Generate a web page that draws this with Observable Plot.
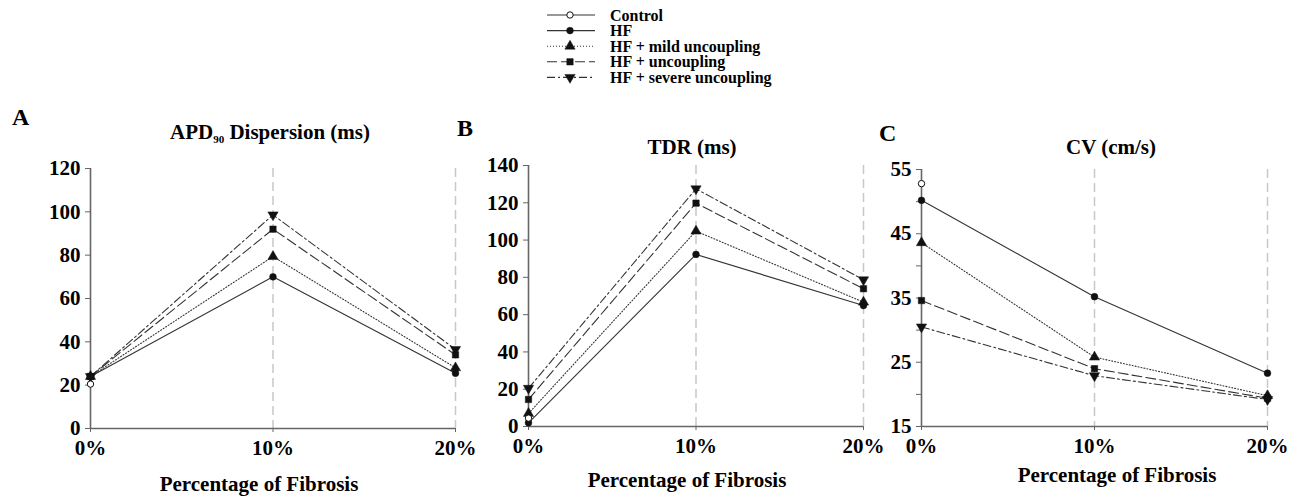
<!DOCTYPE html>
<html>
<head>
<meta charset="utf-8">
<script src="https://cdn.jsdelivr.net/npm/d3@7"></script>
<script src="https://cdn.jsdelivr.net/npm/@observablehq/plot@0.6"></script>
<style>
  body { margin: 0; background: #fff; }
  #wrap { position: relative; width: 1302px; height: 497px; background: #fff; overflow: hidden;
          font-family: 'Liberation Serif', 'Times New Roman', serif; font-weight: bold; color: #000; }
  .abs { position: absolute; white-space: nowrap; }
  .title { font-size: 21px; line-height: 21px; text-align: center; width: 300px; }
  .letter { font-size: 24px; line-height: 24px; }
  .xlab { font-size: 21px; line-height: 21px; text-align: center; width: 300px; }
  sub { font-size: 11px; vertical-align: -4px; line-height: 0; }
</style>
</head>
<body>
<div id="wrap"></div>
<script>
// ---------- data ----------
const fibrosis = [0, 10, 20];
const xTickLabels = ["0%", "10%", "20%"];
const seriesNames = ["Control", "HF", "HF + mild uncoupling", "HF + uncoupling", "HF + severe uncoupling"];

// Panel A: APD90 dispersion (ms)
const apdControl = [20.5];
const apdHF      = [24, 70, 25.5];
const apdMild    = [24, 79.4, 28];
const apdUnc     = [24, 92, 34];
const apdSevere  = [24, 98.6, 36.5];
const apdTicks   = [0, 20, 40, 60, 80, 100, 120];

// Panel B: TDR (ms)
const tdrControl = [4.5];
const tdrHF      = [2, 92.3, 64.9];
const tdrMild    = [7, 104.8, 66.7];
const tdrUnc     = [14.5, 119.8, 73.9];
const tdrSevere  = [20.5, 127.5, 78.7];
const tdrTicks   = [0, 20, 40, 60, 80, 100, 120, 140];

// Panel C: CV (cm/s)
const cvControl = [52.8];
const cvHF      = [50.2, 35.2, 23.3];
const cvMild    = [43.6, 25.8, 19.8];
const cvUnc     = [34.6, 24.0, 19.4];
const cvSevere  = [30.5, 22.9, 19.2];
const cvTicks      = [15, 25, 35, 45, 55];
const cvMinorTicks = [20, 30, 40, 50];

// ---------- styles ----------
const styleOf = {
  "Control":                {dash: null,        symbol: "circle",   fill: "#fff",  rotate: 0,   r: 3.2},
  "HF":                     {dash: null,        symbol: "circle",   fill: "#111",  rotate: 0,   r: 3.4},
  "HF + mild uncoupling":   {dash: "1,2",       symbol: "triangle", fill: "#111",  rotate: 0,   r: 3.8},
  "HF + uncoupling":        {dash: "10,4",      symbol: "square",   fill: "#111",  rotate: 0,   r: 3.6},
  "HF + severe uncoupling": {dash: "8,3,2,3",   symbol: "triangle", fill: "#111",  rotate: 180, r: 3.8}
};

function rows(arrs) {
  const out = [];
  seriesNames.forEach((s, i) => {
    arrs[i].forEach((v, j) => out.push({series: s, x: fibrosis[j], y: v}));
  });
  return out;
}

const wrap = document.getElementById("wrap");

function panel({data, yDomain, ticks, minorTicks, left, top, width, height, mL, mR, mT, mB}) {
  const marks = [
    Plot.ruleX([10, 20], {stroke: "#c8c8c8", strokeWidth: 1.5, strokeDasharray: "9,5"}),
    Plot.ruleX([0], {stroke: "#666", strokeWidth: 1.6}),
    Plot.ruleY([yDomain[0]], {stroke: "#666", strokeWidth: 1.6}),
    Plot.axisY({ticks, tickSize: 5, tickPadding: 5, stroke: "#666", fill: "#000", label: null}),
    Plot.axisX({ticks: fibrosis, tickFormat: (d) => xTickLabels[fibrosis.indexOf(d)], tickSize: 4, tickPadding: 8,
                stroke: "#666", fill: "#000", label: null})
  ];
  if (minorTicks) marks.push(Plot.axisY({ticks: minorTicks, tickSize: 5, text: null, stroke: "#666", label: null}));
  const drawOrder = ["HF", "HF + mild uncoupling", "HF + severe uncoupling", "HF + uncoupling", "Control"];
  for (const s of drawOrder) {
    const d = data.filter(r => r.series === s);
    if (d.length > 1) marks.push(Plot.line(d, {x: "x", y: "y", stroke: "#333", strokeWidth: 1.1,
                                               strokeDasharray: styleOf[s].dash}));
  }
  for (const s of drawOrder) {
    const d = data.filter(r => r.series === s);
    const st = styleOf[s];
    marks.push(Plot.dot(d, {x: "x", y: "y", symbol: () => st.symbol, fill: st.fill, stroke: "#111",
                            strokeWidth: s === "Control" ? 1 : 0.5, r: st.r, rotate: st.rotate}));
  }
  const chart = Plot.plot({
    width, height, marginLeft: mL, marginRight: mR, marginTop: mT, marginBottom: mB,
    x: {domain: [0, 20]},
    y: {domain: yDomain},
    symbol: {type: "identity"},
    style: {fontFamily: "'Liberation Serif', 'Times New Roman', serif", fontSize: "21px", fontWeight: "bold",
            background: "transparent", overflow: "visible", color: "#000"},
    marks
  });
  chart.style.position = "absolute";
  chart.style.left = left + "px";
  chart.style.top = top + "px";
  chart.style.maxWidth = "none";
  wrap.appendChild(chart);
}

panel({data: rows([apdControl, apdHF, apdMild, apdUnc, apdSevere]), yDomain: [0, 120], ticks: apdTicks,
       left: 0, top: 150, width: 490, height: 318, mL: 90, mR: 35, mT: 18, mB: 40});
panel({data: rows([tdrControl, tdrHF, tdrMild, tdrUnc, tdrSevere]), yDomain: [0, 140], ticks: tdrTicks,
       left: 440, top: 150, width: 458, height: 318, mL: 88, mR: 35, mT: 15, mB: 42});
panel({data: rows([cvControl, cvHF, cvMild, cvUnc, cvSevere]), yDomain: [15, 55], ticks: cvTicks, minorTicks: cvMinorTicks,
       left: 840, top: 150, width: 462, height: 318, mL: 81, mR: 35, mT: 19, mB: 42});

// ---------- text ----------
function addText(cls, html, left, top) {
  const d = document.createElement("div");
  d.className = "abs " + cls;
  d.innerHTML = html;
  d.style.left = left + "px";
  d.style.top = top + "px";
  wrap.appendChild(d);
}
addText("letter", "A", 12, 105);
addText("letter", "B", 457, 116);
addText("letter", "C", 879, 121);
addText("title", "APD<sub>90</sub> Dispersion (ms)", 270 - 150, 122);
addText("title", "TDR (ms)", 692 - 150, 137);
addText("title", "CV (cm/s)", 1111 - 150, 137);
addText("xlab", "Percentage of Fibrosis", 259 - 150, 474);
addText("xlab", "Percentage of Fibrosis", 687 - 150, 470);
addText("xlab", "Percentage of Fibrosis", 1117 - 150, 465);

// ---------- legend ----------
const leg = d3.select(wrap).append("svg")
  .attr("width", 300).attr("height", 92)
  .style("position", "absolute").style("left", "540px").style("top", "0px");
seriesNames.forEach((s, i) => {
  const st = styleOf[s];
  const y = 15 + i * 15.6;
  const g = leg.append("g").attr("transform", `translate(0,${y})`);
  g.append("line").attr("x1", 7).attr("x2", 55).attr("y1", 0).attr("y2", 0)
    .attr("stroke", "#333").attr("stroke-width", 1.1).attr("stroke-dasharray", st.dash);
  const sym = {circle: d3.symbolCircle, triangle: d3.symbolTriangle, square: d3.symbolSquare}[st.symbol];
  g.append("path").attr("d", d3.symbol(sym, st.r * st.r * Math.PI)())
    .attr("transform", `translate(30,0) rotate(${st.rotate})`)
    .attr("fill", st.fill).attr("stroke", "#111").attr("stroke-width", s === "Control" ? 1 : 0.5);
  g.append("text").attr("x", 70).attr("y", 0).attr("dy", "0.35em")
    .attr("font-family", "'Liberation Serif', 'Times New Roman', serif")
    .attr("font-weight", "bold").attr("font-size", 16).text(s);
});
</script>
</body>
</html>
